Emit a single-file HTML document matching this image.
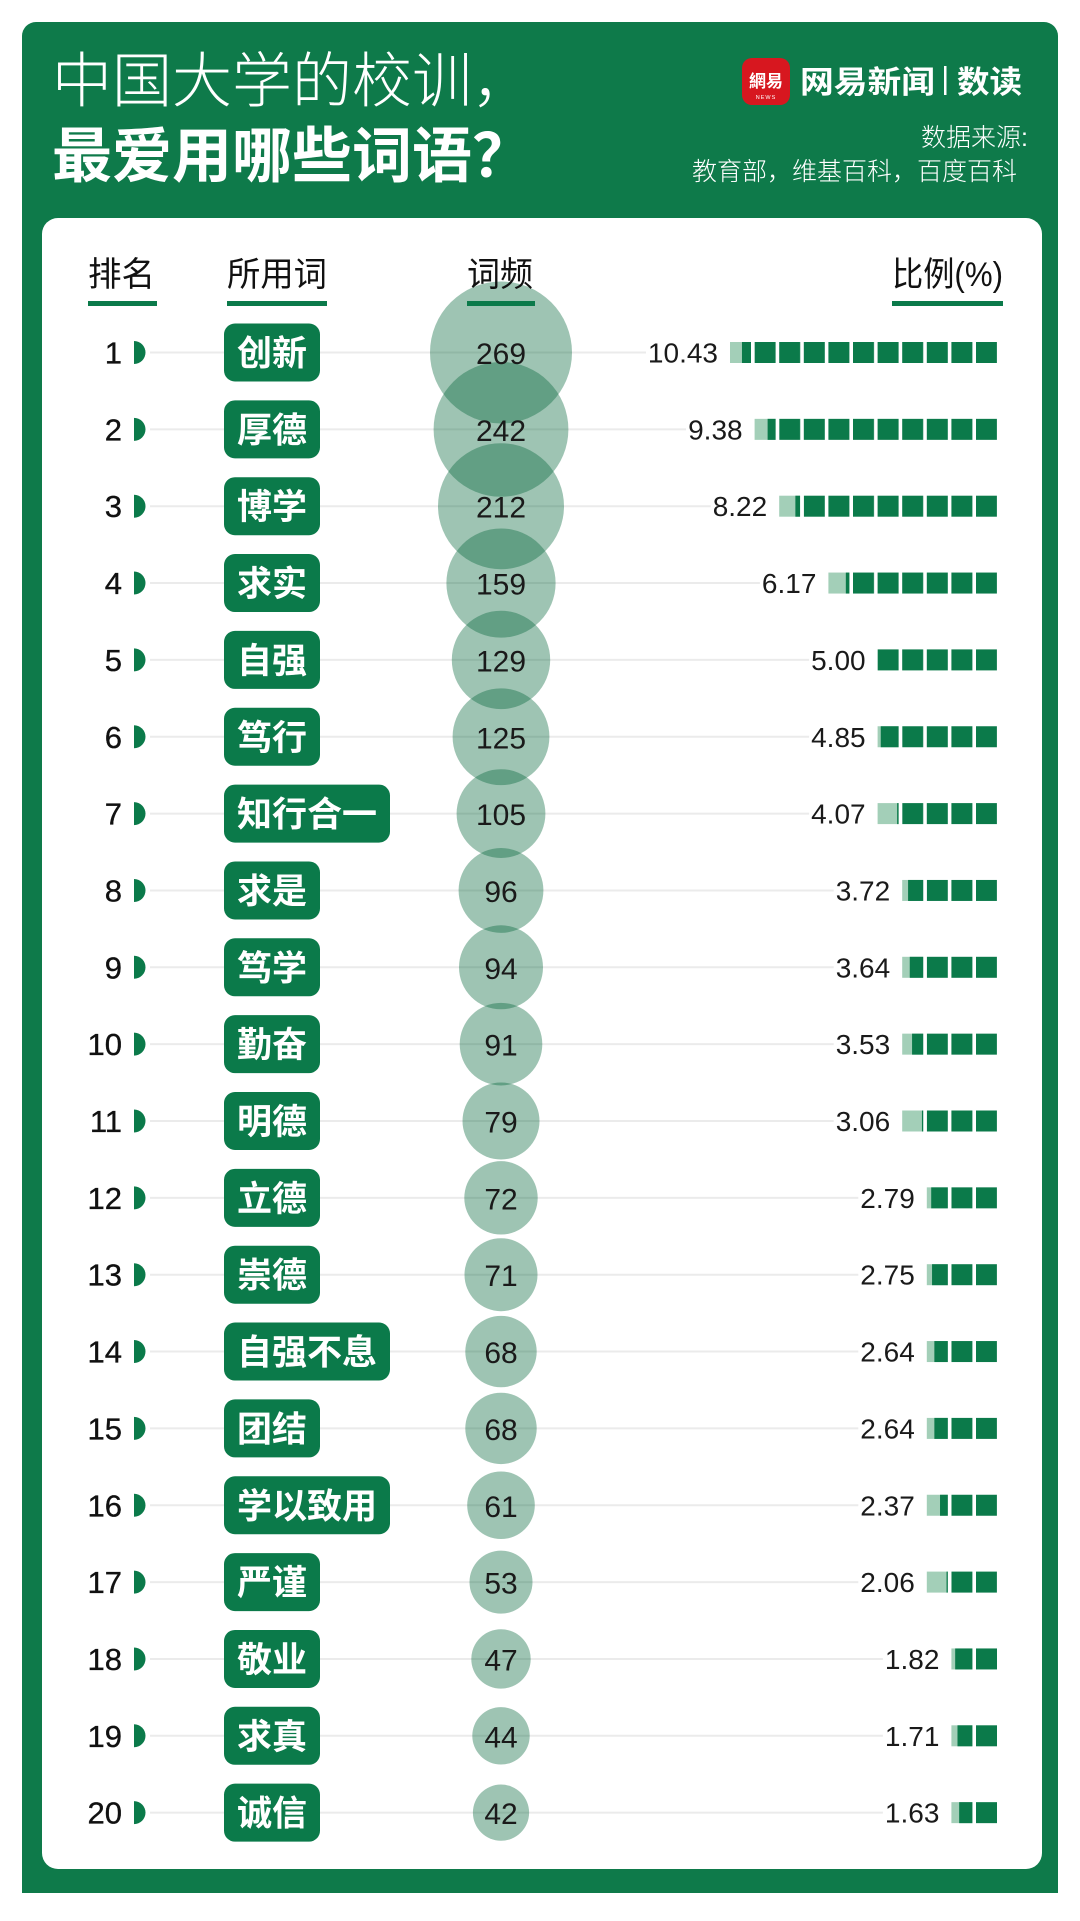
<!DOCTYPE html>
<html><head><meta charset="utf-8">
<style>
html,body{margin:0;padding:0;background:#fff;}
svg{display:block;}
.g{fill:#0b7a4a}
.lt{fill:#a3cfb8}
.cj{font-family:"Liberation Sans","Noto Sans CJK SC",sans-serif;}
.rk{font-family:"Liberation Sans",sans-serif;font-size:31px;fill:#111;text-anchor:end;stroke:#111;stroke-width:0.35px;}
.pw{font-family:"Liberation Sans","Noto Sans CJK SC",sans-serif;font-size:35px;font-weight:bold;fill:#fff;text-anchor:middle;}
.cn{font-family:"Liberation Sans",sans-serif;font-size:30px;fill:#1a1a1a;text-anchor:middle;}
.rt{font-family:"Liberation Sans",sans-serif;font-size:28px;fill:#1a1a1a;text-anchor:end;}
.hd{font-family:"Liberation Sans","Noto Sans CJK SC",sans-serif;font-size:34px;fill:#111;}
.ln line{stroke:#ebebeb;stroke-width:2;}
.cc circle{fill:rgba(0,100,55,0.38);}
</style></head>
<body>
<svg width="1080" height="1921" viewBox="0 0 1080 1921" xmlns="http://www.w3.org/2000/svg">
<defs>
<pattern id="sq" patternUnits="userSpaceOnUse" x="976" y="-100" width="24.6" height="200">
<rect x="0" y="0" width="21" height="200" fill="#0b7a4a"/>
</pattern>
</defs>
<rect width="1080" height="1921" fill="#fff"/>
<path d="M22,36 A14,14 0 0 1 36,22 H1044 A14,14 0 0 1 1058,36 V1893 H22 Z" fill="#0e7a4a"/>
<rect x="42" y="218" width="1000" height="1651" rx="16" fill="#fff"/>

<!-- title -->
<text x="52" y="102" class="cj" font-size="60" font-weight="300" fill="#fff">中国大学的校训，</text>
<text x="52" y="177" class="cj" font-size="60" font-weight="bold" fill="#fff">最爱用哪些词语？</text>

<!-- logo -->
<rect x="742" y="58" width="48" height="47" rx="10" fill="#d7171f"/>
<text x="766" y="87" class="cj" font-size="17" font-weight="bold" fill="#fff" text-anchor="middle">網易</text>
<text x="766" y="99" font-family="Liberation Sans,sans-serif" font-size="5.5" fill="#fff" text-anchor="middle" letter-spacing="1">NEWS</text>
<text x="800" y="93" class="cj" font-size="31" font-weight="bold" fill="#fff" textLength="135" lengthAdjust="spacingAndGlyphs">网易新闻</text>
<rect x="944" y="66" width="2.5" height="29" fill="#fff"/>
<text x="957" y="93" class="cj" font-size="31" font-weight="bold" fill="#fff" textLength="65" lengthAdjust="spacingAndGlyphs">数读</text>
<text x="1028" y="146" class="cj" font-size="25" font-weight="300" fill="#fff" text-anchor="end">数据来源:</text>
<text x="1017" y="180" class="cj" font-size="25" font-weight="300" fill="#fff" text-anchor="end">教育部，维基百科，百度百科</text>

<!-- row lines -->
<g class="ln">
<line x1="150" x2="646" y1="352.5" y2="352.5"/>
<line x1="150" x2="686" y1="429.35" y2="429.35"/>
<line x1="150" x2="710.7" y1="506.2" y2="506.2"/>
<line x1="150" x2="759.9" y1="583.05" y2="583.05"/>
<line x1="150" x2="809.1" y1="659.9" y2="659.9"/>
<line x1="150" x2="809.1" y1="736.75" y2="736.75"/>
<line x1="150" x2="809.1" y1="813.6" y2="813.6"/>
<line x1="150" x2="833.7" y1="890.45" y2="890.45"/>
<line x1="150" x2="833.7" y1="967.3" y2="967.3"/>
<line x1="150" x2="833.7" y1="1044.15" y2="1044.15"/>
<line x1="150" x2="833.7" y1="1121" y2="1121"/>
<line x1="150" x2="858.3" y1="1197.85" y2="1197.85"/>
<line x1="150" x2="858.3" y1="1274.7" y2="1274.7"/>
<line x1="150" x2="858.3" y1="1351.55" y2="1351.55"/>
<line x1="150" x2="858.3" y1="1428.4" y2="1428.4"/>
<line x1="150" x2="858.3" y1="1505.25" y2="1505.25"/>
<line x1="150" x2="858.3" y1="1582.1" y2="1582.1"/>
<line x1="150" x2="882.9" y1="1658.95" y2="1658.95"/>
<line x1="150" x2="882.9" y1="1735.8" y2="1735.8"/>
<line x1="150" x2="882.9" y1="1812.65" y2="1812.65"/>
</g>

<!-- circles -->
<g class="cc">
<circle cx="501" cy="352.5" r="71"/>
<circle cx="501" cy="429.35" r="67.4"/>
<circle cx="501" cy="506.2" r="63"/>
<circle cx="501" cy="583.05" r="54.6"/>
<circle cx="501" cy="659.9" r="49.2"/>
<circle cx="501" cy="736.75" r="48.4"/>
<circle cx="501" cy="813.6" r="44.4"/>
<circle cx="501" cy="890.45" r="42.4"/>
<circle cx="501" cy="967.3" r="42"/>
<circle cx="501" cy="1044.15" r="41.3"/>
<circle cx="501" cy="1121" r="38.5"/>
<circle cx="501" cy="1197.85" r="36.7"/>
<circle cx="501" cy="1274.7" r="36.5"/>
<circle cx="501" cy="1351.55" r="35.7"/>
<circle cx="501" cy="1428.4" r="35.7"/>
<circle cx="501" cy="1505.25" r="33.8"/>
<circle cx="501" cy="1582.1" r="31.5"/>
<circle cx="501" cy="1658.95" r="29.7"/>
<circle cx="501" cy="1735.8" r="28.7"/>
<circle cx="501" cy="1812.65" r="28.1"/>
</g>

<!-- header -->
<text x="88" y="286" class="hd" textLength="67" lengthAdjust="spacingAndGlyphs">排名</text>
<text x="227" y="286" class="hd" textLength="100" lengthAdjust="spacingAndGlyphs">所用词</text>
<text x="467" y="286" class="hd" textLength="66" lengthAdjust="spacingAndGlyphs">词频</text>
<text x="892" y="286" class="hd" textLength="111" lengthAdjust="spacingAndGlyphs">比例(%)</text>
<rect x="88" y="301" width="69" height="5" class="g"/>
<rect x="227" y="301" width="100" height="5" class="g"/>
<rect x="467" y="301" width="68" height="5" class="g"/>
<rect x="892" y="301" width="111" height="5" class="g"/>

<!-- rows -->
<g transform="translate(0,352.5)">
<path d="M134,-11.5A11.5,11.5 0 0 1 134,11.5Z" class="g"/>
<text x="122" y="11" class="rk">1</text>
<rect x="224" y="-29" width="96" height="58" rx="11" class="g"/>
<text x="272" y="13" class="pw">创新</text>
<text x="501" y="11.5" class="cn">269</text>
<text x="718" y="10" class="rt">10.43</text>
<rect x="730" y="-10.5" width="21" height="21" class="lt"/>
<rect x="741.97" y="-10.5" width="9.03" height="21" class="g"/>
<rect x="754.6" y="-10.5" width="242.4" height="21" fill="url(#sq)"/>
</g>

<g transform="translate(0,429.35)">
<path d="M134,-11.5A11.5,11.5 0 0 1 134,11.5Z" class="g"/>
<text x="122" y="11" class="rk">2</text>
<rect x="224" y="-29" width="96" height="58" rx="11" class="g"/>
<text x="272" y="13" class="pw">厚德</text>
<text x="501" y="11.5" class="cn">242</text>
<text x="742.6" y="10" class="rt">9.38</text>
<rect x="754.6" y="-10.5" width="21" height="21" class="lt"/>
<rect x="767.62" y="-10.5" width="7.98" height="21" class="g"/>
<rect x="779.2" y="-10.5" width="217.8" height="21" fill="url(#sq)"/>
</g>

<g transform="translate(0,506.2)">
<path d="M134,-11.5A11.5,11.5 0 0 1 134,11.5Z" class="g"/>
<text x="122" y="11" class="rk">3</text>
<rect x="224" y="-29" width="96" height="58" rx="11" class="g"/>
<text x="272" y="13" class="pw">博学</text>
<text x="501" y="11.5" class="cn">212</text>
<text x="767.2" y="10" class="rt">8.22</text>
<rect x="779.2" y="-10.5" width="21" height="21" class="lt"/>
<rect x="795.38" y="-10.5" width="4.62" height="21" class="g"/>
<rect x="803.8" y="-10.5" width="193.2" height="21" fill="url(#sq)"/>
</g>

<g transform="translate(0,583.05)">
<path d="M134,-11.5A11.5,11.5 0 0 1 134,11.5Z" class="g"/>
<text x="122" y="11" class="rk">4</text>
<rect x="224" y="-29" width="96" height="58" rx="11" class="g"/>
<text x="272" y="13" class="pw">求实</text>
<text x="501" y="11.5" class="cn">159</text>
<text x="816.4" y="10" class="rt">6.17</text>
<rect x="828.4" y="-10.5" width="21" height="21" class="lt"/>
<rect x="845.83" y="-10.5" width="3.57" height="21" class="g"/>
<rect x="853" y="-10.5" width="144" height="21" fill="url(#sq)"/>
</g>

<g transform="translate(0,659.9)">
<path d="M134,-11.5A11.5,11.5 0 0 1 134,11.5Z" class="g"/>
<text x="122" y="11" class="rk">5</text>
<rect x="224" y="-29" width="96" height="58" rx="11" class="g"/>
<text x="272" y="13" class="pw">自强</text>
<text x="501" y="11.5" class="cn">129</text>
<text x="865.6" y="10" class="rt">5.00</text>
<rect x="877.6" y="-10.5" width="119.4" height="21" fill="url(#sq)"/>
</g>

<g transform="translate(0,736.75)">
<path d="M134,-11.5A11.5,11.5 0 0 1 134,11.5Z" class="g"/>
<text x="122" y="11" class="rk">6</text>
<rect x="224" y="-29" width="96" height="58" rx="11" class="g"/>
<text x="272" y="13" class="pw">笃行</text>
<text x="501" y="11.5" class="cn">125</text>
<text x="865.6" y="10" class="rt">4.85</text>
<rect x="877.6" y="-10.5" width="21" height="21" class="lt"/>
<rect x="880.75" y="-10.5" width="17.85" height="21" class="g"/>
<rect x="902.2" y="-10.5" width="94.8" height="21" fill="url(#sq)"/>
</g>

<g transform="translate(0,813.6)">
<path d="M134,-11.5A11.5,11.5 0 0 1 134,11.5Z" class="g"/>
<text x="122" y="11" class="rk">7</text>
<rect x="224" y="-29" width="166" height="58" rx="11" class="g"/>
<text x="307" y="13" class="pw">知行合一</text>
<text x="501" y="11.5" class="cn">105</text>
<text x="865.6" y="10" class="rt">4.07</text>
<rect x="877.6" y="-10.5" width="21" height="21" class="lt"/>
<rect x="897.13" y="-10.5" width="1.47" height="21" class="g"/>
<rect x="902.2" y="-10.5" width="94.8" height="21" fill="url(#sq)"/>
</g>

<g transform="translate(0,890.45)">
<path d="M134,-11.5A11.5,11.5 0 0 1 134,11.5Z" class="g"/>
<text x="122" y="11" class="rk">8</text>
<rect x="224" y="-29" width="96" height="58" rx="11" class="g"/>
<text x="272" y="13" class="pw">求是</text>
<text x="501" y="11.5" class="cn">96</text>
<text x="890.2" y="10" class="rt">3.72</text>
<rect x="902.2" y="-10.5" width="21" height="21" class="lt"/>
<rect x="908.08" y="-10.5" width="15.12" height="21" class="g"/>
<rect x="926.8" y="-10.5" width="70.2" height="21" fill="url(#sq)"/>
</g>

<g transform="translate(0,967.3)">
<path d="M134,-11.5A11.5,11.5 0 0 1 134,11.5Z" class="g"/>
<text x="122" y="11" class="rk">9</text>
<rect x="224" y="-29" width="96" height="58" rx="11" class="g"/>
<text x="272" y="13" class="pw">笃学</text>
<text x="501" y="11.5" class="cn">94</text>
<text x="890.2" y="10" class="rt">3.64</text>
<rect x="902.2" y="-10.5" width="21" height="21" class="lt"/>
<rect x="909.76" y="-10.5" width="13.44" height="21" class="g"/>
<rect x="926.8" y="-10.5" width="70.2" height="21" fill="url(#sq)"/>
</g>

<g transform="translate(0,1044.15)">
<path d="M134,-11.5A11.5,11.5 0 0 1 134,11.5Z" class="g"/>
<text x="122" y="11" class="rk">10</text>
<rect x="224" y="-29" width="96" height="58" rx="11" class="g"/>
<text x="272" y="13" class="pw">勤奋</text>
<text x="501" y="11.5" class="cn">91</text>
<text x="890.2" y="10" class="rt">3.53</text>
<rect x="902.2" y="-10.5" width="21" height="21" class="lt"/>
<rect x="912.07" y="-10.5" width="11.13" height="21" class="g"/>
<rect x="926.8" y="-10.5" width="70.2" height="21" fill="url(#sq)"/>
</g>

<g transform="translate(0,1121)">
<path d="M134,-11.5A11.5,11.5 0 0 1 134,11.5Z" class="g"/>
<text x="122" y="11" class="rk">11</text>
<rect x="224" y="-29" width="96" height="58" rx="11" class="g"/>
<text x="272" y="13" class="pw">明德</text>
<text x="501" y="11.5" class="cn">79</text>
<text x="890.2" y="10" class="rt">3.06</text>
<rect x="902.2" y="-10.5" width="21" height="21" class="lt"/>
<rect x="921.94" y="-10.5" width="1.26" height="21" class="g"/>
<rect x="926.8" y="-10.5" width="70.2" height="21" fill="url(#sq)"/>
</g>

<g transform="translate(0,1197.85)">
<path d="M134,-11.5A11.5,11.5 0 0 1 134,11.5Z" class="g"/>
<text x="122" y="11" class="rk">12</text>
<rect x="224" y="-29" width="96" height="58" rx="11" class="g"/>
<text x="272" y="13" class="pw">立德</text>
<text x="501" y="11.5" class="cn">72</text>
<text x="914.8" y="10" class="rt">2.79</text>
<rect x="926.8" y="-10.5" width="21" height="21" class="lt"/>
<rect x="931.21" y="-10.5" width="16.59" height="21" class="g"/>
<rect x="951.4" y="-10.5" width="45.6" height="21" fill="url(#sq)"/>
</g>

<g transform="translate(0,1274.7)">
<path d="M134,-11.5A11.5,11.5 0 0 1 134,11.5Z" class="g"/>
<text x="122" y="11" class="rk">13</text>
<rect x="224" y="-29" width="96" height="58" rx="11" class="g"/>
<text x="272" y="13" class="pw">崇德</text>
<text x="501" y="11.5" class="cn">71</text>
<text x="914.8" y="10" class="rt">2.75</text>
<rect x="926.8" y="-10.5" width="21" height="21" class="lt"/>
<rect x="932.05" y="-10.5" width="15.75" height="21" class="g"/>
<rect x="951.4" y="-10.5" width="45.6" height="21" fill="url(#sq)"/>
</g>

<g transform="translate(0,1351.55)">
<path d="M134,-11.5A11.5,11.5 0 0 1 134,11.5Z" class="g"/>
<text x="122" y="11" class="rk">14</text>
<rect x="224" y="-29" width="166" height="58" rx="11" class="g"/>
<text x="307" y="13" class="pw">自强不息</text>
<text x="501" y="11.5" class="cn">68</text>
<text x="914.8" y="10" class="rt">2.64</text>
<rect x="926.8" y="-10.5" width="21" height="21" class="lt"/>
<rect x="934.36" y="-10.5" width="13.44" height="21" class="g"/>
<rect x="951.4" y="-10.5" width="45.6" height="21" fill="url(#sq)"/>
</g>

<g transform="translate(0,1428.4)">
<path d="M134,-11.5A11.5,11.5 0 0 1 134,11.5Z" class="g"/>
<text x="122" y="11" class="rk">15</text>
<rect x="224" y="-29" width="96" height="58" rx="11" class="g"/>
<text x="272" y="13" class="pw">团结</text>
<text x="501" y="11.5" class="cn">68</text>
<text x="914.8" y="10" class="rt">2.64</text>
<rect x="926.8" y="-10.5" width="21" height="21" class="lt"/>
<rect x="934.36" y="-10.5" width="13.44" height="21" class="g"/>
<rect x="951.4" y="-10.5" width="45.6" height="21" fill="url(#sq)"/>
</g>

<g transform="translate(0,1505.25)">
<path d="M134,-11.5A11.5,11.5 0 0 1 134,11.5Z" class="g"/>
<text x="122" y="11" class="rk">16</text>
<rect x="224" y="-29" width="166" height="58" rx="11" class="g"/>
<text x="307" y="13" class="pw">学以致用</text>
<text x="501" y="11.5" class="cn">61</text>
<text x="914.8" y="10" class="rt">2.37</text>
<rect x="926.8" y="-10.5" width="21" height="21" class="lt"/>
<rect x="940.03" y="-10.5" width="7.77" height="21" class="g"/>
<rect x="951.4" y="-10.5" width="45.6" height="21" fill="url(#sq)"/>
</g>

<g transform="translate(0,1582.1)">
<path d="M134,-11.5A11.5,11.5 0 0 1 134,11.5Z" class="g"/>
<text x="122" y="11" class="rk">17</text>
<rect x="224" y="-29" width="96" height="58" rx="11" class="g"/>
<text x="272" y="13" class="pw">严谨</text>
<text x="501" y="11.5" class="cn">53</text>
<text x="914.8" y="10" class="rt">2.06</text>
<rect x="926.8" y="-10.5" width="21" height="21" class="lt"/>
<rect x="946.54" y="-10.5" width="1.26" height="21" class="g"/>
<rect x="951.4" y="-10.5" width="45.6" height="21" fill="url(#sq)"/>
</g>

<g transform="translate(0,1658.95)">
<path d="M134,-11.5A11.5,11.5 0 0 1 134,11.5Z" class="g"/>
<text x="122" y="11" class="rk">18</text>
<rect x="224" y="-29" width="96" height="58" rx="11" class="g"/>
<text x="272" y="13" class="pw">敬业</text>
<text x="501" y="11.5" class="cn">47</text>
<text x="939.4" y="10" class="rt">1.82</text>
<rect x="951.4" y="-10.5" width="21" height="21" class="lt"/>
<rect x="955.18" y="-10.5" width="17.22" height="21" class="g"/>
<rect x="976" y="-10.5" width="21" height="21" class="g"/>
</g>

<g transform="translate(0,1735.8)">
<path d="M134,-11.5A11.5,11.5 0 0 1 134,11.5Z" class="g"/>
<text x="122" y="11" class="rk">19</text>
<rect x="224" y="-29" width="96" height="58" rx="11" class="g"/>
<text x="272" y="13" class="pw">求真</text>
<text x="501" y="11.5" class="cn">44</text>
<text x="939.4" y="10" class="rt">1.71</text>
<rect x="951.4" y="-10.5" width="21" height="21" class="lt"/>
<rect x="957.49" y="-10.5" width="14.91" height="21" class="g"/>
<rect x="976" y="-10.5" width="21" height="21" class="g"/>
</g>

<g transform="translate(0,1812.65)">
<path d="M134,-11.5A11.5,11.5 0 0 1 134,11.5Z" class="g"/>
<text x="122" y="11" class="rk">20</text>
<rect x="224" y="-29" width="96" height="58" rx="11" class="g"/>
<text x="272" y="13" class="pw">诚信</text>
<text x="501" y="11.5" class="cn">42</text>
<text x="939.4" y="10" class="rt">1.63</text>
<rect x="951.4" y="-10.5" width="21" height="21" class="lt"/>
<rect x="959.17" y="-10.5" width="13.23" height="21" class="g"/>
<rect x="976" y="-10.5" width="21" height="21" class="g"/>
</g>
</svg>
</body></html>
